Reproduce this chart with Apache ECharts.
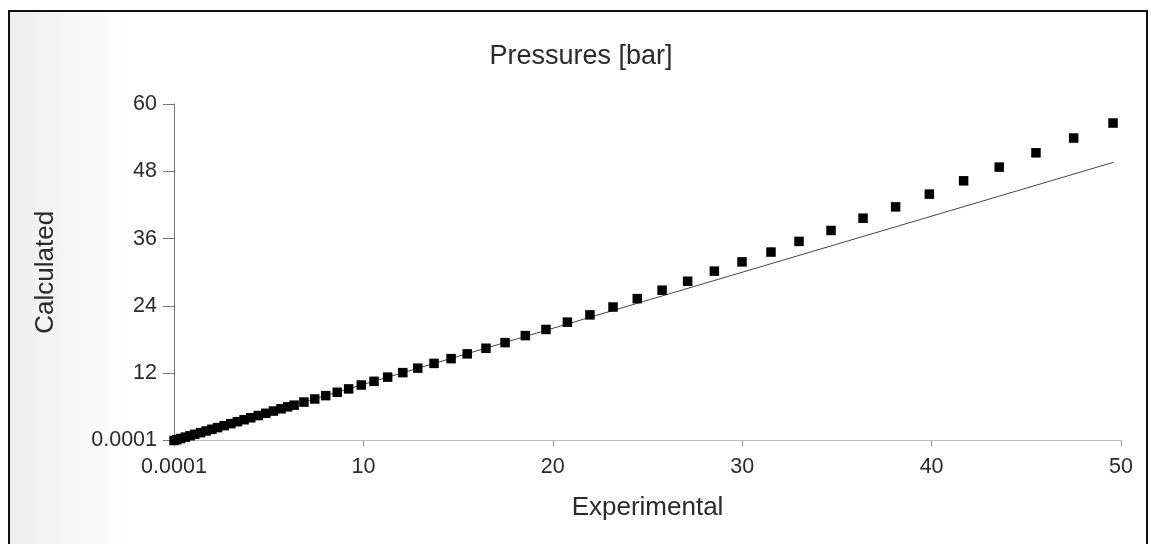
<!DOCTYPE html>
<html>
<head>
<meta charset="utf-8">
<script src="https://cdn.jsdelivr.net/npm/echarts@6/dist/echarts.min.js"></script>
<style>
    html, body { margin: 0; padding: 0; background: #fff; }
    .frame {
        position: absolute;
        left: 8px; top: 10px;
        width: 1136px; height: 600px;
        border: 2px solid #111;
        background: linear-gradient(to right, #eeeeee 0px, #f8f8f8 70px, #ffffff 130px);
    }
    #chart { position: absolute; left: 0; top: 0; width: 1151px; height: 544px; }
</style>
</head>
<body>
<div class="frame"></div>
<div id="chart"></div>
<script>
// experimental vs calculated pressures [bar]
const expData = [
    0.0001, 0.15, 0.35, 0.6, 0.85, 1.1, 1.4, 1.7, 2.0, 2.3,
    2.65, 3.0, 3.35, 3.7, 4.05, 4.45, 4.85, 5.25, 5.65, 6.0,
    6.34, 6.86, 7.43, 8.01, 8.62, 9.22, 9.89, 10.56, 11.28, 12.08,
    12.87, 13.73, 14.63, 15.48, 16.47, 17.48, 18.55, 19.64, 20.77, 21.96,
    23.18, 24.46, 25.77, 27.12, 28.53, 29.99, 31.52, 33.0, 34.69, 36.38,
    38.10, 39.88, 41.69, 43.57, 45.51, 47.50, 49.58
];
const calcData = [
    0.0001, 0.15, 0.35, 0.6, 0.85, 1.1, 1.4, 1.7, 2.0, 2.3,
    2.65, 3.0, 3.35, 3.7, 4.05, 4.45, 4.85, 5.25, 5.65, 6.0,
    6.3, 6.85, 7.4, 8.0, 8.6, 9.2, 9.9, 10.55, 11.3, 12.1,
    12.9, 13.75, 14.6, 15.45, 16.45, 17.45, 18.7, 19.8, 21.1, 22.4,
    23.8, 25.3, 26.8, 28.4, 30.2, 31.85, 33.6, 35.5, 37.45, 39.64,
    41.66, 43.93, 46.3, 48.75, 51.3, 53.93, 56.61
];
// y = x reference line
const refLine = [0.0001, 49.6];
const xTicks = [0, 10, 20, 30, 40, 50];
const yTicks = [0, 12, 24, 36, 48, 60];

const font = "'Liberation Sans', Arial, sans-serif";
const tickLabel = v => (v === 0 ? '0.0001' : String(v));

const chart = echarts.init(document.getElementById('chart'));
chart.setOption({
    backgroundColor: 'transparent',
    animation: false,
    title: {
        text: 'Pressures [bar]',
        left: 576,
        top: 38,
        textAlign: 'center',
        textStyle: { fontFamily: font, fontSize: 27, fontWeight: 'normal', color: '#2a2a2a' }
    },
    grid: { left: 174, right: 30, top: 104, bottom: 103.5 },
    xAxis: {
        type: 'value',
        min: xTicks[0],
        max: xTicks[xTicks.length - 1],
        interval: xTicks[1] - xTicks[0],
        name: 'Experimental',
        nameLocation: 'middle',
        nameGap: 54,
        nameTextStyle: { fontFamily: font, fontSize: 26, color: '#2a2a2a' },
        axisLine: { lineStyle: { color: '#bbb', width: 1 } },
        axisTick: { show: true, length: 6, lineStyle: { color: '#999' } },
        axisLabel: { margin: 16, fontFamily: font, fontSize: 21.5, color: '#2a2a2a', formatter: tickLabel },
        splitLine: { show: false }
    },
    yAxis: {
        type: 'value',
        min: yTicks[0],
        max: yTicks[yTicks.length - 1],
        interval: yTicks[1] - yTicks[0],
        name: 'Calculated',
        nameLocation: 'middle',
        nameGap: 115,
        nameTextStyle: { fontFamily: font, fontSize: 26, color: '#2a2a2a' },
        axisLine: { show: true, lineStyle: { color: '#777', width: 1 } },
        axisTick: { show: true, length: 11, lineStyle: { color: '#777' } },
        axisLabel: { margin: 17, fontFamily: font, fontSize: 21.5, color: '#2a2a2a', formatter: tickLabel },
        splitLine: { show: false }
    },
    series: [
        {
            type: 'line',
            data: refLine.map(v => [v, v]),
            showSymbol: false,
            lineStyle: { color: '#444', width: 1 },
            z: 1
        },
        {
            type: 'scatter',
            data: expData.map((x, i) => [x, calcData[i]]),
            symbol: 'rect',
            symbolSize: 9.5,
            itemStyle: { color: '#000', opacity: 1 },
            z: 2
        }
    ]
});
</script>
</body>
</html>
